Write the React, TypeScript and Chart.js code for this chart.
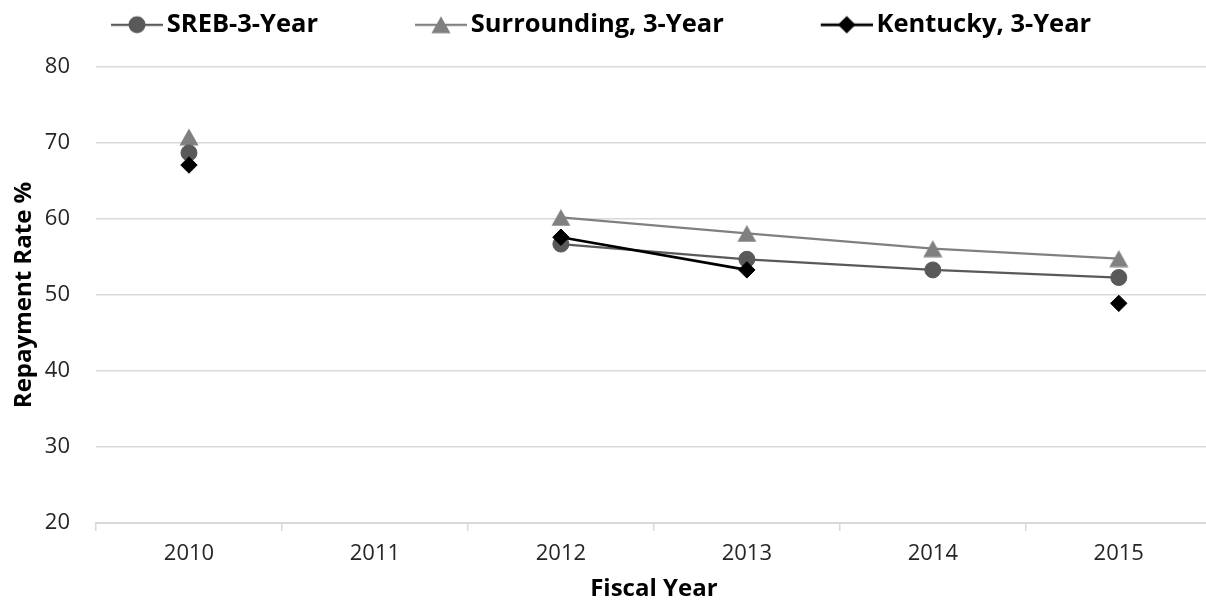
import React, { useEffect, useRef } from 'react';
import { Chart, registerables } from 'chart.js';

Chart.register(...registerables);

// ---- data ----
const categories = ['2010', '2011', '2012', '2013', '2014', '2015'];
const seriesNames = ['SREB-3-Year', 'Surrounding, 3-Year', 'Kentucky, 3-Year'];
const srebValues: (number | null)[] = [68.7, null, 56.7, 54.7, 53.3, 52.3];
const surroundingValues: (number | null)[] = [70.8, null, 60.2, 58.1, 56.1, 54.8];
const kentuckyValues: (number | null)[] = [67.1, null, 57.6, 53.3, null, 48.9];
const yTickValues = [20, 30, 40, 50, 60, 70, 80];
const xTitle = 'Fiscal Year';
const yTitle = 'Repayment Rate %';

// ---- style ----
const FONT = "'Open Sans', sans-serif";
const C_SREB = '#595959';
const C_SUR = '#808080';
const C_KY = '#000000';
const GRID = '#d9d9d9';
const TARGET_RIGHT = 1212;

type Kind = 'circle' | 'triangle' | 'diamond';

function drawMarker(ctx: CanvasRenderingContext2D, kind: Kind, cx: number, cy: number, color: string) {
  ctx.fillStyle = color;
  ctx.beginPath();
  if (kind === 'circle') {
    ctx.arc(cx, cy, 8.5, 0, Math.PI * 2);
  } else if (kind === 'triangle') {
    ctx.moveTo(cx, cy - 8.5);
    ctx.lineTo(cx + 9.5, cy + 8.5);
    ctx.lineTo(cx - 9.5, cy + 8.5);
    ctx.closePath();
  } else {
    ctx.moveTo(cx, cy - 8.8);
    ctx.lineTo(cx + 8.8, cy);
    ctx.lineTo(cx, cy + 8.8);
    ctx.lineTo(cx - 8.8, cy);
    ctx.closePath();
  }
  ctx.fill();
}

function makeTriangle(color: string): HTMLCanvasElement {
  const c = document.createElement('canvas');
  c.width = 20;
  c.height = 18;
  const ctx = c.getContext('2d')!;
  drawMarker(ctx, 'triangle', 10, 9, color);
  return c;
}

const LEG_BOX = 130;
const LEG_FS = 25.5;
const LEG_W = 148;
const LEG_LINE = 52;

function makeLegendImage(kind: Kind, color: string, lw: number): HTMLCanvasElement {
  const c = document.createElement('canvas');
  c.width = LEG_W;
  c.height = 22;
  const ctx = c.getContext('2d')!;
  ctx.strokeStyle = color;
  ctx.lineWidth = lw;
  ctx.beginPath();
  ctx.moveTo(LEG_W - LEG_LINE, 11);
  ctx.lineTo(LEG_W, 11);
  ctx.stroke();
  drawMarker(ctx, kind, LEG_W - LEG_LINE / 2, 11, color);
  return c;
}

function buildConfig(): any {
  const triImg = makeTriangle(C_SUR);
  const legendImages = [
    makeLegendImage('circle', C_SREB, 2.25),
    makeLegendImage('triangle', C_SUR, 2.25),
    makeLegendImage('diamond', C_KY, 2.75),
  ];
  return {
    type: 'line',
    data: {
      labels: categories,
      datasets: [
        {
          label: seriesNames[0],
          data: srebValues,
          borderColor: C_SREB,
          backgroundColor: C_SREB,
          borderWidth: 2.25,
          pointStyle: 'circle',
          pointRadius: 8,
          pointBorderWidth: 1,
          pointBorderColor: C_SREB,
          pointBackgroundColor: C_SREB,
          order: 1,
        },
        {
          label: seriesNames[1],
          data: surroundingValues,
          borderColor: C_SUR,
          backgroundColor: C_SUR,
          borderWidth: 2.25,
          pointStyle: triImg,
          pointRadius: 9,
          order: 2,
        },
        {
          label: seriesNames[2],
          data: kentuckyValues,
          borderColor: C_KY,
          backgroundColor: C_KY,
          borderWidth: 2.75,
          pointStyle: 'rectRot',
          pointRadius: 8.2,
          pointBorderWidth: 1,
          pointBorderColor: C_KY,
          pointBackgroundColor: C_KY,
          order: 0,
        },
      ],
    },
    options: {
      responsive: false,
      animation: false,
      events: [],
      spanGaps: false,
      layout: { padding: { left: 14, top: 2, right: 0, bottom: 0 } },
      plugins: {
        tooltip: { enabled: false },
        title: { display: false },
        subtitle: {
          display: true,
          text: '',
          weight: 500,
          padding: { top: 18.5, bottom: 0 },
          font: { size: 1, lineHeight: 1 },
        },
        legend: {
          display: true,
          position: 'top',
          align: 'start',
          labels: {
            usePointStyle: true,
            pointStyleWidth: LEG_BOX,
            padding: 10,
            color: '#000',
            font: { family: FONT, size: LEG_FS, weight: 'bold' },
            sort: (a: any, b: any) => a.datasetIndex - b.datasetIndex,
            generateLabels: (ch: any) => {
              const items = (Chart.defaults.plugins.legend.labels as any).generateLabels(ch);
              items.forEach((it: any) => {
                it.pointStyle = legendImages[it.datasetIndex];
                it.fontColor = '#000';
              });
              return items;
            },
          },
        },
      },
      scales: {
        x: {
          type: 'category',
          offset: true,
          afterFit: (s: any) => { s.height = 86; },
          border: { display: true, color: GRID, width: 2 },
          grid: {
            display: true,
            offset: true,
            drawOnChartArea: false,
            drawTicks: true,
            tickLength: 8,
            color: GRID,
            lineWidth: 1.5,
          },
          ticks: {
            color: '#262626',
            font: { family: FONT, size: 22 },
            padding: 10,
            maxRotation: 0,
            autoSkip: false,
          },
          title: {
            display: true,
            text: xTitle,
            color: '#000',
            font: { family: FONT, size: 24, weight: 'bold' },
            padding: { top: 0, bottom: 5 },
          },
        },
        y: {
          type: 'linear',
          min: 20,
          max: 80,
          afterFit: (s: any) => { s.width = 82; },
          afterBuildTicks: (s: any) => { s.ticks = yTickValues.map((v) => ({ value: v })); },
          border: { display: false },
          grid: { color: GRID, lineWidth: 1.5, drawTicks: false },
          ticks: {
            color: '#262626',
            font: { family: FONT, size: 22 },
            padding: 26,
          },
          title: {
            display: true,
            text: yTitle,
            color: '#000',
            font: { family: FONT, size: 24, weight: 'bold' },
            padding: { top: -4, bottom: 0 },
          },
        },
      },
    },
  };
}

export default function App() {
  const ref = useRef<HTMLCanvasElement | null>(null);

  useEffect(() => {
    const canvas = ref.current;
    if (!canvas) return;
    let chart = new Chart(canvas, buildConfig());
    const delta = TARGET_RIGHT - chart.chartArea.right;
    if (Math.abs(delta) > 0.25) {
      chart.destroy();
      const w = Math.round(TARGET_RIGHT + delta);
      canvas.width = w;
      canvas.height = 609;
      canvas.style.width = w + 'px';
      canvas.style.height = '609px';
      chart = new Chart(canvas, buildConfig());
    }
    return () => chart.destroy();
  }, []);

  return (
    <div
      style={{
        position: 'fixed',
        left: 0,
        top: 0,
        width: 1206,
        height: 609,
        overflow: 'hidden',
        background: '#fff',
      }}
    >
      <canvas
        ref={ref}
        width={1212}
        height={609}
        style={{ position: 'absolute', left: 0, top: 0, width: 1212, height: 609 }}
      />
    </div>
  );
}
